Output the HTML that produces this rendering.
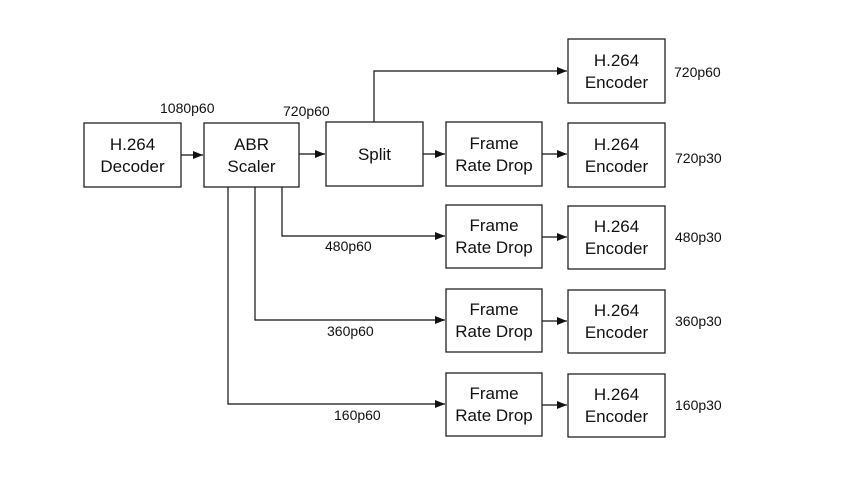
<!DOCTYPE html>
<html><head><meta charset="utf-8"><style>
body{margin:0;background:#fff}
svg{display:block}
.b{fill:#fff;stroke:#222;stroke-width:1.3}
.t{font-family:"Liberation Sans",sans-serif;font-size:17px;fill:#111;text-anchor:middle}
.l{font-family:"Liberation Sans",sans-serif;font-size:14px;fill:#111}
.c{fill:none;stroke:#111;stroke-width:1.2}
</style></head><body>
<svg width="852" height="480" viewBox="0 0 852 480">
<defs><marker id="a" markerWidth="10" markerHeight="8" refX="10" refY="4" orient="auto" markerUnits="userSpaceOnUse"><path d="M0,0L10,4L0,8z" fill="#111"/></marker></defs>
<g class="c">
<path d="M181,155H203" marker-end="url(#a)"/>
<path d="M299,154H325" marker-end="url(#a)"/>
<path d="M423,154H445" marker-end="url(#a)"/>
<path d="M542,154H567" marker-end="url(#a)"/>
<path d="M374,122V71H567" marker-end="url(#a)"/>
<path d="M282,187V236H445" marker-end="url(#a)"/>
<path d="M255,187V320H445" marker-end="url(#a)"/>
<path d="M228,187V404H445" marker-end="url(#a)"/>
<path d="M542,237H567" marker-end="url(#a)"/>
<path d="M542,321H567" marker-end="url(#a)"/>
<path d="M542,405H567" marker-end="url(#a)"/>
</g>
<rect class="b" x="84" y="123" width="97" height="64"/>
<text class="t" x="132.5" y="150">H.264</text><text class="t" x="132.5" y="172">Decoder</text>
<rect class="b" x="204" y="123" width="95" height="64"/>
<text class="t" x="251.5" y="150">ABR</text><text class="t" x="251.5" y="172">Scaler</text>
<rect class="b" x="326" y="122" width="97" height="64"/>
<text class="t" x="374.5" y="160">Split</text>
<g>
<rect class="b" x="446" y="122" width="96" height="64"/><text class="t" x="494" y="149">Frame</text><text class="t" x="494" y="171">Rate Drop</text>
<rect class="b" x="446" y="205" width="96" height="63"/><text class="t" x="494" y="231">Frame</text><text class="t" x="494" y="253">Rate Drop</text>
<rect class="b" x="446" y="289" width="96" height="63"/><text class="t" x="494" y="315">Frame</text><text class="t" x="494" y="337">Rate Drop</text>
<rect class="b" x="446" y="373" width="96" height="63"/><text class="t" x="494" y="399">Frame</text><text class="t" x="494" y="421">Rate Drop</text>
</g>
<g>
<rect class="b" x="568" y="39" width="97" height="64"/><text class="t" x="616.5" y="66">H.264</text><text class="t" x="616.5" y="88">Encoder</text>
<rect class="b" x="568" y="123" width="97" height="64"/><text class="t" x="616.5" y="150">H.264</text><text class="t" x="616.5" y="172">Encoder</text>
<rect class="b" x="568" y="206" width="97" height="63"/><text class="t" x="616.5" y="232">H.264</text><text class="t" x="616.5" y="254">Encoder</text>
<rect class="b" x="568" y="290" width="97" height="63"/><text class="t" x="616.5" y="316">H.264</text><text class="t" x="616.5" y="338">Encoder</text>
<rect class="b" x="568" y="374" width="97" height="63"/><text class="t" x="616.5" y="400">H.264</text><text class="t" x="616.5" y="422">Encoder</text>
</g>
<text class="l" x="160" y="113">1080p60</text>
<text class="l" x="283" y="116">720p60</text>
<text class="l" x="325" y="251">480p60</text>
<text class="l" x="327" y="336">360p60</text>
<text class="l" x="334" y="420">160p60</text>
<text class="l" x="674" y="77">720p60</text>
<text class="l" x="675" y="163">720p30</text>
<text class="l" x="675" y="242">480p30</text>
<text class="l" x="675" y="326">360p30</text>
<text class="l" x="675" y="410">160p30</text>
</svg>
</body></html>
